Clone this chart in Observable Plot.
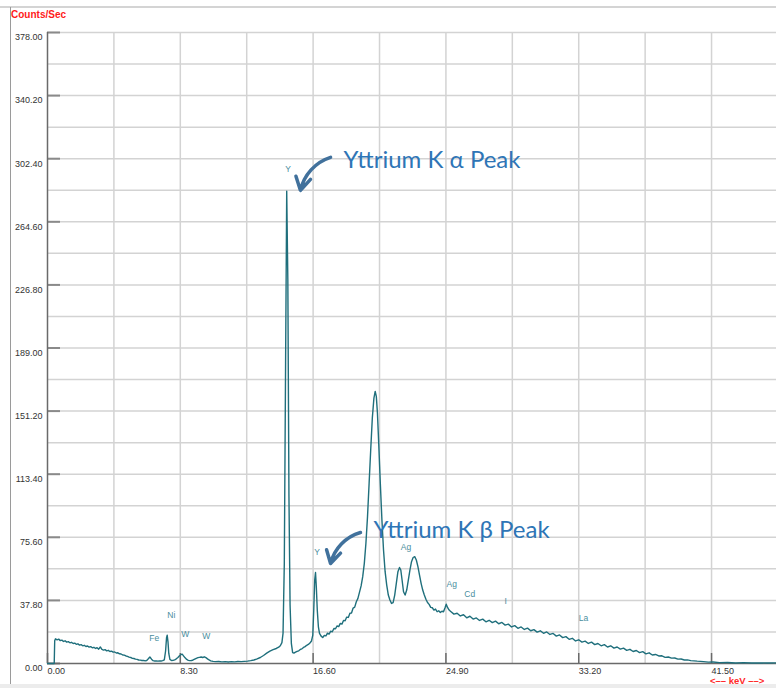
<!DOCTYPE html>
<html><head><meta charset="utf-8">
<script src="https://cdn.jsdelivr.net/npm/d3@7"></script>
<script src="https://cdn.jsdelivr.net/npm/@observablehq/plot@0.6"></script>
<style>
body{margin:0;background:#fff;}
#wrap{position:relative;width:776px;height:688px;overflow:hidden;background:#fff;font-family:"Liberation Sans",Arial,sans-serif;}
#topline{position:absolute;left:0;top:6px;width:776px;height:2px;background:#d4d4d4;}
#leftline{position:absolute;left:10px;top:7px;width:1px;height:681px;background:#9a9a9a;}
#bottomband{position:absolute;left:0;top:684px;width:776px;height:4px;background:#ececec;}
#ylabel{position:absolute;left:11px;top:9px;color:#ff1a1a;font-weight:bold;font-size:10px;}
#xlabel{position:absolute;left:710px;top:675px;color:#ff2a2a;font-weight:bold;font-size:9.5px;white-space:nowrap;}
#chart{position:absolute;left:0;top:0;}
</style></head>
<body><div id="wrap">
<div id="topline"></div><div id="leftline"></div><div id="bottomband"></div>
<div id="chart"></div>
<div id="ylabel">Counts/Sec</div>
<div id="xlabel">&lt;&ndash;&ndash; keV &ndash;&ndash;&gt;</div>
</div>
<script>
// spectrum: [keV, counts/sec]
const spectrum = [
[0,0],[0.42,0],[0.45,13.6],[0.5,14.8],[0.6,14.2],[0.7,14.6],[0.8,13.7],[0.9,14.0],[1.0,13.2],[1.1,13.6],[1.2,12.8],[1.3,13.1],[1.4,12.4],[1.5,12.7],[1.6,12.0],[1.7,12.2],[1.8,11.5],[1.9,11.8],[2.0,11.0],[2.1,11.3],[2.2,10.6],[2.3,10.9],[2.4,10.2],[2.5,10.5],[2.6,9.8],[2.7,10.1],[2.8,9.4],[2.9,9.7],[3.0,9.0],[3.1,9.5],[3.2,8.6],[3.3,9.9],[3.4,8.4],[3.5,8.0],[3.6,8.3],[3.7,7.6],[3.8,7.9],[3.9,7.2],[4.0,7.4],[4.1,6.8],[4.2,6.9],[4.3,6.3],[4.4,6.4],[4.5,5.8],[4.6,5.7],[4.7,5.1],[4.8,5.0],[4.9,4.5],[5.0,4.3],[5.1,3.8],[5.2,3.6],[5.3,3.1],[5.4,3.0],[5.5,2.6],[5.6,2.5],[5.7,2.1],[5.8,2.0],[5.9,1.8],[6.0,1.9],[6.1,1.6],[6.2,1.8],[6.3,2.8],[6.4,3.9],[6.5,2.6],[6.6,1.7],[6.7,1.5],[6.8,1.6],[6.9,1.4],[7.0,1.6],[7.1,1.5],[7.2,1.7],[7.3,2.2],[7.38,7.5],[7.44,15.5],[7.48,17.0],[7.53,13.0],[7.58,6.0],[7.65,2.5],[7.75,1.8],[7.85,1.9],[7.95,2.2],[8.05,2.8],[8.15,3.6],[8.25,4.6],[8.35,5.4],[8.42,5.6],[8.5,4.6],[8.6,3.4],[8.7,2.4],[8.8,1.9],[8.9,1.7],[9.0,1.8],[9.1,2.1],[9.2,2.6],[9.3,3.1],[9.4,3.5],[9.5,3.7],[9.6,3.9],[9.7,3.6],[9.8,4.0],[9.9,3.5],[10.0,2.8],[10.1,2.1],[10.2,1.6],[10.35,1.3],[10.5,1.1],[10.7,1.2],[10.9,1.0],[11.1,1.1],[11.3,0.9],[11.5,1.1],[11.7,1.0],[11.9,1.2],[12.1,1.1],[12.3,1.3],[12.5,1.4],[12.7,1.7],[12.9,2.1],[13.1,2.8],[13.3,3.6],[13.5,4.8],[13.7,6.2],[13.9,7.4],[14.1,8.3],[14.3,9.0],[14.45,9.8],[14.55,10.6],[14.65,12.5],[14.72,18],[14.8,60],[14.88,180],[14.95,283],[15.02,230],[15.09,100],[15.16,35],[15.24,12],[15.32,6.5],[15.4,6.2],[15.5,6.8],[15.6,7.3],[15.7,7.6],[15.8,8.4],[15.9,8.8],[16.0,9.6],[16.1,10.1],[16.2,10.9],[16.3,11.4],[16.4,12.3],[16.5,13.5],[16.58,17],[16.64,32],[16.7,50],[16.75,54.5],[16.8,46],[16.86,32],[16.93,22],[17.0,18],[17.1,16.4],[17.2,15.6],[17.3,16.8],[17.4,16.5],[17.5,18.2],[17.6,17.6],[17.7,19.4],[17.8,19.0],[17.9,21.0],[18.0,20.8],[18.1,22.5],[18.2,22.1],[18.3,24.0],[18.4,23.6],[18.5,25.8],[18.6,25.6],[18.7,27.8],[18.8,27.6],[18.9,30.1],[19.0,30.2],[19.1,33.2],[19.2,33.8],[19.3,37.0],[19.4,39.0],[19.5,42.8],[19.6,46.5],[19.7,52],[19.8,60],[19.9,72],[20.0,88],[20.1,108],[20.2,128],[20.3,147],[20.4,159],[20.48,163],[20.55,160],[20.62,150],[20.7,132],[20.8,108],[20.9,86],[21.0,68],[21.1,55],[21.2,47],[21.3,41],[21.4,38],[21.5,36],[21.6,36.5],[21.7,41],[21.8,48],[21.9,55],[22.0,57.5],[22.08,56],[22.16,50],[22.25,43],[22.35,41],[22.45,44],[22.55,50],[22.65,56],[22.75,61],[22.85,63.5],[22.95,64],[23.05,62],[23.15,58],[23.25,53],[23.35,48],[23.45,44],[23.55,41],[23.65,38.5],[23.75,36.5],[23.85,35.4],[23.95,33.6],[24.05,33.4],[24.15,32.0],[24.25,32.6],[24.35,31.0],[24.45,31.6],[24.55,30.6],[24.65,31.3],[24.75,31.0],[24.85,33.5],[24.92,35.5],[25.0,33.6],[25.1,32.0],[25.2,31.2],[25.4,29.6],[25.6,30.1],[25.8,28.5],[26.0,29.2],[26.2,27.4],[26.4,28.3],[26.6,26.6],[26.8,27.3],[27.0,25.8],[27.2,26.6],[27.4,25.0],[27.6,25.9],[27.8,24.5],[28.0,25.4],[28.2,23.8],[28.4,24.6],[28.6,23.0],[28.8,23.6],[29.0,21.9],[29.2,22.7],[29.4,21.1],[29.6,21.9],[29.8,20.4],[30.0,21.2],[30.2,19.6],[30.4,20.3],[30.6,18.8],[30.8,19.6],[31.0,18.1],[31.2,18.9],[31.4,17.4],[31.6,18.0],[31.8,16.4],[32.0,17.1],[32.2,15.5],[32.4,16.1],[32.6,14.5],[32.8,15.1],[33.0,13.5],[33.2,14.2],[33.4,12.8],[33.6,13.4],[33.8,12.0],[34.0,12.8],[34.2,11.3],[34.4,12.0],[34.6,10.6],[34.8,11.3],[35.0,9.9],[35.2,10.6],[35.4,9.2],[35.6,9.9],[35.8,8.6],[36.0,9.2],[36.2,7.9],[36.4,8.5],[36.6,7.2],[36.8,7.8],[37.0,6.5],[37.2,7.1],[37.4,5.8],[37.6,6.4],[37.8,5.1],[38.0,5.4],[38.2,4.5],[38.4,4.6],[38.6,3.7],[38.8,3.9],[39.0,3.2],[39.2,3.3],[39.4,2.6],[39.6,2.7],[39.8,2.1],[40.0,2.2],[40.2,1.7],[40.4,1.6],[40.6,1.4],[40.8,1.3],[41.0,1.1],[41.3,0.8],[41.6,0.9],[42.0,0.5],[42.5,0.6],[43.0,0.3],[43.5,0.5],[44.0,0.3],[44.5,0.4],[45.0,0.3],[45.56,0.4]
];
const xTicks = [0, 8.3, 16.6, 24.9, 33.2, 41.5];
const yTicks = [0, 37.8, 75.6, 113.4, 151.2, 189.0, 226.8, 264.6, 302.4, 340.2, 378.0];
const xGrid = [4.15, 8.3, 12.45, 16.6, 20.75, 24.9, 29.05, 33.2, 37.35, 41.5, 45.65];
const yGrid = [18.9, 37.8, 56.7, 75.6, 94.5, 113.4, 132.3, 151.2, 170.1, 189.0, 207.9, 226.8, 245.7, 264.6, 283.5, 302.4, 321.3, 340.2, 359.1, 378.0];
// element labels
const elementNames = ["Fe","Ni","W","W","Y","Y","Ag","Ag","Cd","I","La"];
const elementKeV = [6.67,7.74,8.61,9.92,15.03,16.84,22.4,25.26,26.39,28.63,33.5];
const elementCounts = [15,28.8,17.4,16.2,296,66.5,69.5,47.3,41.3,37.1,27];
// annotations
const noteTexts = ["Yttrium K α Peak", "Yttrium K β Peak"];
const noteKeV = [18.5, 20.375];
const noteCounts = [301.4, 79.7];
const arrowFromKeV = [17.69, 19.56];
const arrowFromCounts = [303.2, 78.5];
const arrowToKeV = [15.81, 17.69];
const arrowToCounts = [283.4, 59.9];

const W = 776, H = 688, mL = 47, mR = 0, mT = 32, mB = 25;
const fw = W - mL - mR, fh = H - mT - mB;
const spec = spectrum.map(([k, c]) => ({keV: k, counts: c}));
const labels = elementNames.map((n, i) => ({n, x: elementKeV[i], y: elementCounts[i]}));
const notes = noteTexts.map((t, i) => ({t, x: noteKeV[i], y: noteCounts[i], x1: arrowFromKeV[i], y1: arrowFromCounts[i], x2: arrowToKeV[i], y2: arrowToCounts[i]}));

const chart = Plot.plot({
  width: W, height: H,
  marginLeft: mL, marginRight: mR, marginTop: mT, marginBottom: mB,
  style: {background: "transparent", fontFamily: "Liberation Sans, Arial, sans-serif", overflow: "visible"},
  x: {domain: [0, 45.56], axis: null},
  y: {domain: [0, 378], axis: null},
  marks: [
    Plot.ruleX(xGrid, {stroke: "#d3d3d3", strokeWidth: 1.5}),
    Plot.ruleY(yGrid, {stroke: "#d3d3d3", strokeWidth: 1.5}),
    Plot.tickY(yTicks, {y: d => d, insetRight: fw - 13, stroke: "#8a8a8a", strokeWidth: 2}),
    Plot.tickX(xTicks, {x: d => d, insetTop: fh - 10, stroke: "#6a6a6a", strokeWidth: 1.5}),
    Plot.ruleX([0], {stroke: "#6a6a6a", strokeWidth: 1.5}),
    Plot.ruleY([0], {stroke: "#6a6a6a", strokeWidth: 1.5}),
    Plot.line(spec, {x: "keV", y: "counts", stroke: "#1f6f7c", strokeWidth: 1.4}),
    Plot.text(yTicks, {x: 0, y: d => d, text: d => d.toFixed(2), textAnchor: "end", dx: -5, dy: 5, fill: "#333", fontSize: 9}),
    Plot.text(xTicks, {x: d => d, y: 0, text: d => d.toFixed(2), textAnchor: "start", dx: 0, dy: 8, fill: "#333", fontSize: 9}),
    Plot.text(labels, {x: "x", y: "y", text: "n", fill: "#4a8e9e", fontSize: 8.5}),
    Plot.text(notes, {x: "x", y: "y", text: "t", textAnchor: "start", fill: "#2e75b6", fontSize: 24, fontFamily: "Lato, 'Open Sans', sans-serif"}),
    Plot.arrow(notes, {x1: "x1", y1: "y1", x2: "x2", y2: "y2", bend: -30, stroke: "#41719c", strokeWidth: 3.5, headLength: 13})
  ]
});
document.getElementById("chart").appendChild(chart);
</script>
</body></html>
